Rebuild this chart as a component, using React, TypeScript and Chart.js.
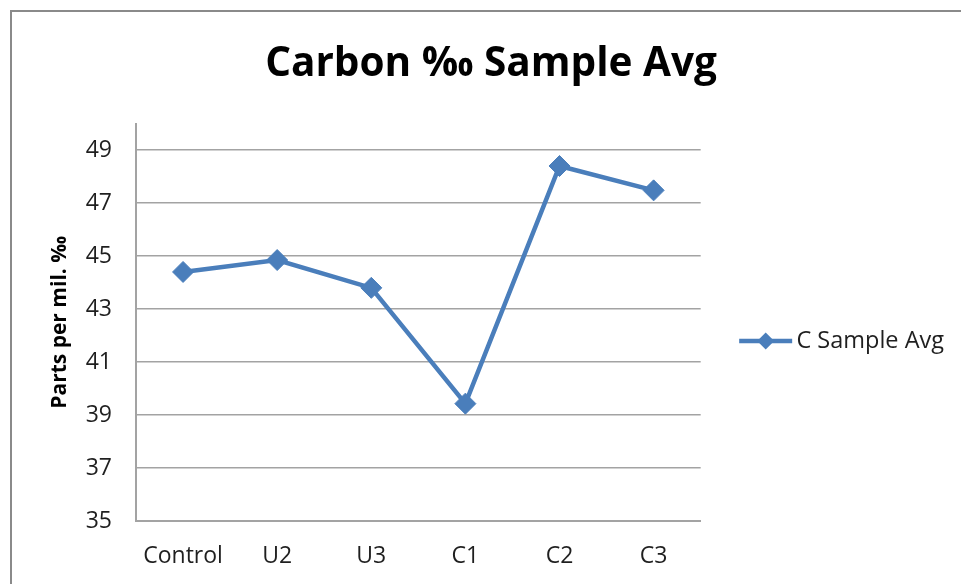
import React, { useEffect, useRef } from 'react';
import { Chart, registerables } from 'chart.js';

Chart.register(...registerables);

// ---- data ----
const categories = ['Control', 'U2', 'U3', 'C1', 'C2', 'C3'];
const seriesName = 'C Sample Avg';
const cSampleAvg = [44.4, 44.85, 43.8, 39.43, 48.4, 47.48];
const yTickValues = [35, 37, 39, 41, 43, 45, 47, 49];
const yMin = 35;
const yMax = 50;
const chartTitle = 'Carbon \u2030 Sample Avg';
const yAxisTitle = 'Parts per mil. \u2030';

// ---- styles ----
const LINE = '#4A7EBB';
const GRID = '#a3a3a3';
const TEXT = '#1f1f1f';
const FONT = '"Open Sans", sans-serif';
const CANVAS_W = 954;
const CANVAS_H = 600;
const PAD_LEFT = 28;
const LEGEND_LINE_W = 53;

const legendMarker = {
  id: 'legendMarker',
  afterDraw(chart: any) {
    const legend = chart.legend;
    if (!legend || !legend.legendHitBoxes || !legend.legendHitBoxes.length) return;
    const hb = legend.legendHitBoxes[0];
    const x0 = hb.left;
    const cy = hb.top + hb.height / 2;
    const cx = x0 + LEGEND_LINE_W / 2;
    const r = 8.5;
    const ctx = chart.ctx;
    ctx.save();
    ctx.strokeStyle = LINE;
    ctx.lineWidth = 4.5;
    ctx.beginPath();
    ctx.moveTo(x0, cy);
    ctx.lineTo(x0 + LEGEND_LINE_W, cy);
    ctx.stroke();
    ctx.fillStyle = LINE;
    ctx.beginPath();
    ctx.moveTo(cx, cy - r);
    ctx.lineTo(cx + r, cy);
    ctx.lineTo(cx, cy + r);
    ctx.lineTo(cx - r, cy);
    ctx.closePath();
    ctx.fill();
    ctx.restore();
  },
};

export default function App() {
  const ref = useRef<HTMLCanvasElement | null>(null);

  useEffect(() => {
    if (!ref.current) return;
    const chart = new Chart(ref.current, {
      type: 'line',
      data: {
        labels: categories,
        datasets: [
          {
            label: seriesName,
            data: cSampleAvg,
            borderColor: LINE,
            backgroundColor: LINE,
            borderWidth: 4.5,
            tension: 0,
            pointStyle: 'rectRot',
            pointRadius: 10.5,
            pointBorderWidth: 1,
            pointBackgroundColor: LINE,
            pointBorderColor: LINE,
            fill: false,
          },
        ],
      },
      options: {
        animation: false,
        responsive: false,
        devicePixelRatio: 1,
        layout: { padding: { left: PAD_LEFT, right: 0, top: 0, bottom: 0 } },
        plugins: {
          title: {
            display: true,
            text: chartTitle,
            color: '#000',
            font: { family: FONT, size: 40.5, weight: 'bold' },
            padding: { top: 40, bottom: 35 },
          },
          legend: {
            display: true,
            position: 'right',
            maxWidth: 500,
            title: { display: true, text: '', font: { size: 10 }, padding: { top: 35, bottom: 35 } },
            labels: {
              boxWidth: 45.5,
              boxHeight: 4,
              padding: 38.5,
              color: TEXT,
              font: { family: FONT, size: 23.5 },
              generateLabels: (c: any) =>
                (Chart.defaults.plugins.legend.labels.generateLabels as any)(c).map((l: any) => ({
                  ...l,
                  lineWidth: 0,
                  fillStyle: 'rgba(0,0,0,0)',
                  strokeStyle: 'rgba(0,0,0,0)',
                })),
            },
          },
          tooltip: { enabled: false },
        },
        scales: {
          x: {
            type: 'category',
            offset: true,
            grid: { display: false, drawTicks: false },
            border: { display: true, color: GRID, width: 2 },
            ticks: { color: TEXT, font: { family: FONT, size: 23 }, padding: 22, maxRotation: 0 },
            afterFit: (s: any) => {
              s.height = CANVAS_H - 521;
            },
          },
          y: {
            min: yMin,
            max: yMax,
            grid: { color: GRID, lineWidth: 1.5, drawTicks: false },
            border: { display: true, color: GRID, width: 2 },
            ticks: { color: TEXT, font: { family: FONT, size: 23 }, padding: 24 },
            afterBuildTicks: (s: any) => {
              s.ticks = yTickValues.map((v) => ({ value: v }));
            },
            afterFit: (s: any) => {
              s.width = 136 - PAD_LEFT;
            },
            title: {
              display: true,
              text: yAxisTitle,
              color: '#000',
              font: { family: FONT, size: 21, weight: 'bold' },
              padding: { top: 19.4, bottom: 0 },
            },
          },
        },
      },
      plugins: [legendMarker],
    } as any);
    return () => chart.destroy();
  }, []);

  return (
    <div
      style={{
        position: 'fixed',
        left: 0,
        top: 0,
        width: 961,
        height: 584,
        overflow: 'hidden',
        background: '#fff',
      }}
    >
      <canvas
        ref={ref}
        width={CANVAS_W}
        height={CANVAS_H}
        style={{ position: 'absolute', left: 0, top: 0, width: CANVAS_W, height: CANVAS_H }}
      />
      <div
        style={{
          position: 'absolute',
          left: 10,
          top: 10,
          width: 1200,
          height: 900,
          border: '2px solid #8a8a8a',
          boxSizing: 'border-box',
          pointerEvents: 'none',
        }}
      />
    </div>
  );
}
